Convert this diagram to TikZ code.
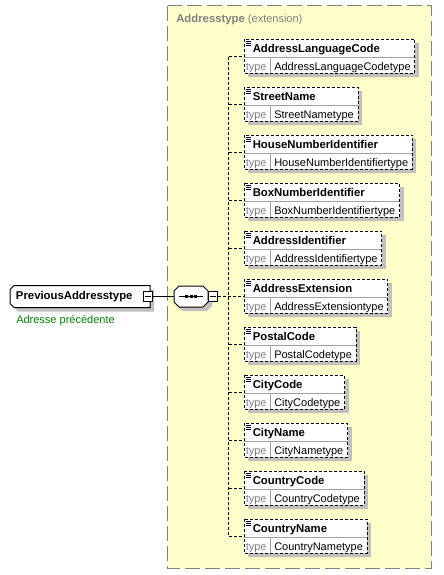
\documentclass[tikz,border=0pt]{standalone}
\usepackage{fontspec}
\setmainfont{Liberation Sans}
\pgfdeclarelayer{back}
\pgfdeclarelayer{mid}
\pgfsetlayers{back,mid,main}
\definecolor{yel}{HTML}{FFFFCC}
\definecolor{shd}{HTML}{C0C0C0}
\definecolor{gtxt}{HTML}{808080}
\definecolor{sepc}{HTML}{A0A0A0}
\definecolor{grn}{HTML}{008000}
\begin{document}
\begin{tikzpicture}[x=0.75pt,y=-0.75pt,
  namefont/.style={font=\fontsize{8.5}{10}\selectfont\bfseries},
  typefont/.style={font=\fontsize{8.25}{10}\selectfont},
  nametxt/.style={namefont, inner sep=0pt, anchor=base west},
  typetxt/.style={typefont, inner sep=0pt, anchor=base west},
  typelbl/.style={typetxt, text=gtxt},
  elemborder/.style={draw=black, line width=0.75pt, dash pattern=on 2.25pt off 1.5pt},
  conn/.style={draw=black, line width=0.75pt, dash pattern=on 2.25pt off 1.5pt},
  sepline/.style={draw=sepc, line width=0.75pt},
  minusbox/.style={draw=black, fill=white, line width=0.75pt, minimum size=7pt, inner sep=0pt},
  outline/.style={draw=black, fill=white, line width=0.75pt},
  shadowfill/.style={fill=shd},
  prevbox/.style={rectangle, namefont, inner xsep=4.5pt, inner ysep=0pt, text width=96pt, align=left, minimum height=16.5pt},
  seqbox/.style={rectangle, inner sep=0pt, minimum width=25.5pt, minimum height=15.75pt},
  ]
\useasboundingbox (0,0) rectangle (443,575);
% container
\begin{pgfonlayer}{back}
\fill[white] (0,0) rectangle (443,575);
\draw[draw=gtxt, fill=yel, line width=0.75pt, dash pattern=on 11.25pt off 3.75pt] (167.5,5.5) rectangle (431.5,568.5);
\end{pgfonlayer}
\node[typetxt, text=gtxt] (ttl) at (176,22.5) {{\fontsize{8.5}{10}\selectfont\bfseries Addresstype} (extension)};
% elements
\foreach \n [count=\i from 0] in {AddressLanguageCode,StreetName,HouseNumberIdentifier,BoxNumberIdentifier,AddressIdentifier,AddressExtension,PostalCode,CityCode,CityName,CountryCode,CountryName}{
  \pgfmathsetmacro\T{39+48*\i}
  \node[typetxt] (t\i) at (274,{\T+31}) {\n type};
  \node[typelbl] (l\i) at (245.5,{\T+31}) {type};
  \node[nametxt] (n\i) at (252.5,{\T+13}) {\n};
  \coordinate (tl\i) at (244,\T);
  \coordinate (bl\i) at (244,{\T+34});
  \path (t\i.east) ++(4,0) coordinate (rx\i);
  \path (rx\i |- bl\i) coordinate (br\i);
  \coordinate (sl\i) at (244,{\T+18.5});
  \coordinate (st\i) at (270.5,{\T+18.5});
  \coordinate (sb\i) at (270.5,{\T+34});
  \begin{pgfonlayer}{mid}
    \fill[shadowfill] ([shift={(4,4)}]tl\i) rectangle ([shift={(4,4)}]br\i);
    \fill[white] (tl\i) rectangle (br\i);
  \end{pgfonlayer}
  \draw[sepline] (sl\i) -- (sl\i -| br\i);
  \draw[sepline] (st\i) -- (sb\i);
  \draw[elemborder] (tl\i) rectangle (br\i);
  \foreach \k in {2,4,6}{
    \draw[line width=0.55pt] (246,{\T+\k}) -- (251,{\T+\k});
  }
  \coordinate (e\i) at (244,{\T+17.5});
  \coordinate (v\i) at (228.5,{\T+17.5});
}
% vertical bus and connectors
\draw[conn] (v0) -- (v10);
\foreach \i in {0,1,2,3,4,6,7,8,9,10}{
  \draw[conn] (v\i) -- (e\i);
}
% previous address node
\fill[shadowfill, shift={(4,4)}] (14,285.5) -- (150,285.5) -- (150,307.5) -- (14,307.5) -- (10,303.5) -- (10,289.5) -- cycle;
\path[outline] (14,285.5) -- (150,285.5) -- (150,307.5) -- (14,307.5) -- (10,303.5) -- (10,289.5) -- cycle;
\node[prevbox] (prev) at (80,296.5) {PreviousAddresstype};
\node[minusbox] (pm) at (148,296.5) {};
\draw[line width=0.75pt] ([xshift=1.5pt]pm.west) -- ([xshift=-1.5pt]pm.east);
\node[typetxt, text=grn] (doc) at (16,323) {Adresse précédente};
% sequence compositor
\fill[shadowfill, shift={(4,4)}] (179,286) -- (203,286) -- (208,291) -- (208,302) -- (203,307) -- (179,307) -- (174,302) -- (174,291) -- cycle;
\path[outline] (179,286) -- (203,286) -- (208,291) -- (208,302) -- (203,307) -- (179,307) -- (174,302) -- (174,291) -- cycle;
\node[seqbox] (seq) at (191,296.5) {};
\draw[line width=0.75pt] (179,296.5) -- (203,296.5);
\foreach \dx in {186.5,191,195.5}{
  \fill (\dx-1.5,295) rectangle (\dx+1.5,298);
}
\node[minusbox] (sm) at (213,296.5) {};
\draw[line width=0.75pt] ([xshift=1.5pt]sm.west) -- ([xshift=-1.5pt]sm.east);
% connectors
\draw[line width=0.75pt] (pm.east) -- (seq.west);
\draw[conn] (sm.east) -- (e5);
\end{tikzpicture}
\end{document}
